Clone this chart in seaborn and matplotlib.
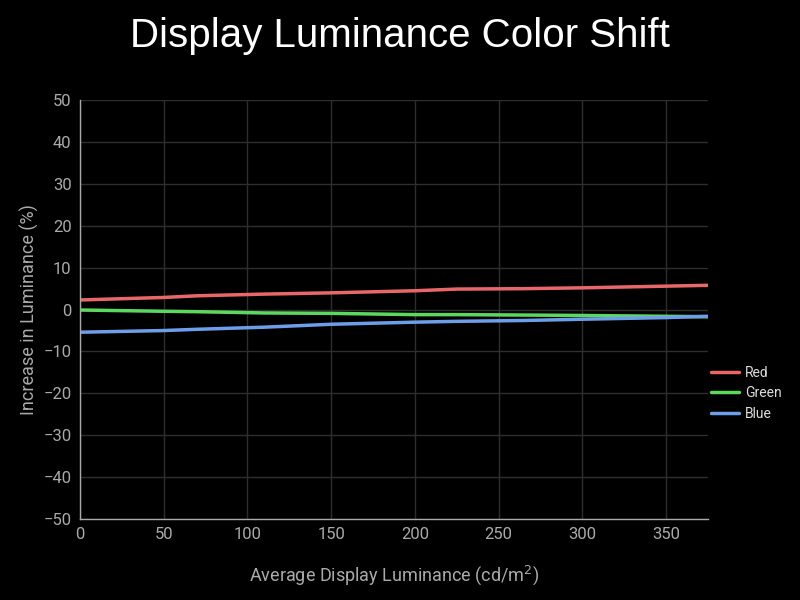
import pandas as pd
import matplotlib
import matplotlib.pyplot as plt
import seaborn as sns

matplotlib.use('Agg')

# data
lum = [0, 50, 70, 110, 150, 200, 225, 265, 300, 350, 375]
red = [2.3, 2.9, 3.3, 3.7, 4.0, 4.5, 4.9, 5.0, 5.2, 5.6, 5.8]
green = [-0.1, -0.4, -0.5, -0.8, -0.9, -1.2, -1.2, -1.3, -1.4, -1.6, -1.7]
blue = [-5.4, -5.0, -4.7, -4.2, -3.5, -3.0, -2.8, -2.6, -2.3, -1.9, -1.6]
series_names = ['Red', 'Green', 'Blue']
colors = {'Red': '#e8686a', 'Green': '#5dd85f', 'Blue': '#6d9eea'}

df = pd.DataFrame({'lum': lum * 3,
                   'val': red + green + blue,
                   'series': [s for s in series_names for _ in lum]})

sns.set_style('dark')
plt.rcParams['font.family'] = ['Roboto', 'DejaVu Sans']
plt.rcParams['axes.unicode_minus'] = True

fig = plt.figure(figsize=(8, 6), dpi=100, facecolor='black')
ax = fig.add_axes([0.1, 0.135, 0.785, 0.698])
ax.set_facecolor('black')

sns.lineplot(data=df, x='lum', y='val', hue='series', palette=colors,
             hue_order=series_names, linewidth=2.5, ax=ax)

ax.set_xlim(0, 375)
ax.set_ylim(-50, 50)
ax.set_xticks(range(0, 351, 50))
ax.set_yticks(range(-50, 51, 10))
ax.grid(True, color='#2e2e2e', linewidth=1)
ax.tick_params(colors='#aaaaaa', labelsize=12, length=0, pad=6)
for side in ['top', 'right']:
    ax.spines[side].set_visible(False)
for side in ['left', 'bottom']:
    ax.spines[side].set_color('#aaaaaa')
    ax.spines[side].set_linewidth(1)

ax.set_xlabel('Average Display Luminance (cd/m$^2$)', color='#aaaaaa', fontsize=13, labelpad=15)
ax.set_ylabel('Increase in Luminance (%)', color='#aaaaaa', fontsize=13, labelpad=3)
fig.suptitle('Display Luminance Color Shift', color='white', fontsize=29,
             family=['Liberation Sans', 'DejaVu Sans'], y=0.972)

leg = ax.legend(loc='center left', bbox_to_anchor=(0.985, 0.30), frameon=False,
                fontsize=10, handlelength=2.0, labelspacing=0.45, handletextpad=0.45)
for t in leg.get_texts():
    t.set_color('#dddddd')

fig.savefig('out.png', dpi=100, facecolor='black')
